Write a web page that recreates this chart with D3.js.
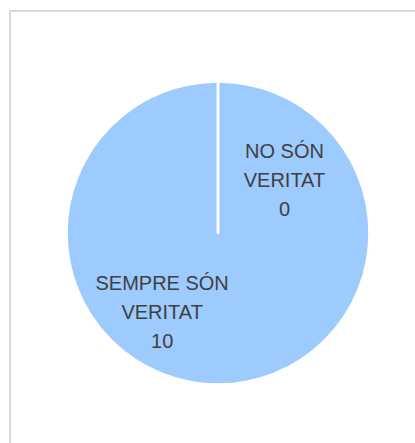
<!DOCTYPE html>
<html>
<head>
  <script src="https://cdn.jsdelivr.net/npm/d3@7"></script>
  <style>
    body { margin: 0; background: #fff; }
    svg { display: block; }
    text { font-family: "Liberation Sans", Arial, sans-serif; fill: #404040; }
  </style>
</head>
<body>
  <div id="container"></div>
  <script>
    const categories = ["NO SÓN VERITAT", "SEMPRE SÓN VERITAT"];
    const values = [0, 10];
    const sliceColor = "#9dcbfd";

    const width = 415;
    const height = 443;
    const cx = 218, cy = 233, radius = 151;

    const svg = d3.select("#container")
      .append("svg")
      .attr("width", width)
      .attr("height", height);

    // chart frame (runs past the right and bottom edge in the reference)
    svg.append("rect")
      .attr("x", 10).attr("y", 11)
      .attr("width", 430).attr("height", 460)
      .attr("fill", "#fff")
      .attr("stroke", "#d9d9d9")
      .attr("stroke-width", 2);

    const data = categories.map((c, i) => ({ name: c, value: values[i] }));

    const pie = d3.pie().sort(null).value(d => d.value);
    const arc = d3.arc().innerRadius(0).outerRadius(radius);
    const arcs = pie(data);

    const g = svg.append("g").attr("transform", `translate(${cx},${cy})`);

    g.selectAll("path")
      .data(arcs)
      .join("path")
      .attr("d", arc)
      .attr("fill", sliceColor)
      .attr("stroke", "#fff")
      .attr("stroke-width", 1.5);

    // white slice borders at every slice start
    g.selectAll("line.sep")
      .data(arcs)
      .join("line")
      .attr("class", "sep")
      .attr("x1", 0).attr("y1", 0)
      .attr("x2", d => radius * Math.sin(d.startAngle))
      .attr("y2", d => -radius * Math.cos(d.startAngle))
      .attr("stroke", "#fff")
      .attr("stroke-width", 2.5)
      .attr("stroke-linecap", "round");

    // label spots, in radius units from the centre
    const labelPos = [[0.44, -0.35], [-0.37, 0.52]];
    const lineH = 29;

    const labels = g.selectAll("g.label")
      .data(data)
      .join("g")
      .attr("class", "label")
      .attr("transform", (d, i) => `translate(${labelPos[i][0] * radius},${labelPos[i][1] * radius})`);

    labels.each(function (d) {
      const words = d.name.split(" ");
      const lines = [words.slice(0, -1).join(" "), words[words.length - 1], String(d.value)];
      d3.select(this).selectAll("text")
        .data(lines)
        .join("text")
        .attr("text-anchor", "middle")
        .attr("font-size", 20)
        .attr("y", (l, j) => (j - 1) * lineH + 7)
        .text(l => l);
    });
  </script>
</body>
</html>
